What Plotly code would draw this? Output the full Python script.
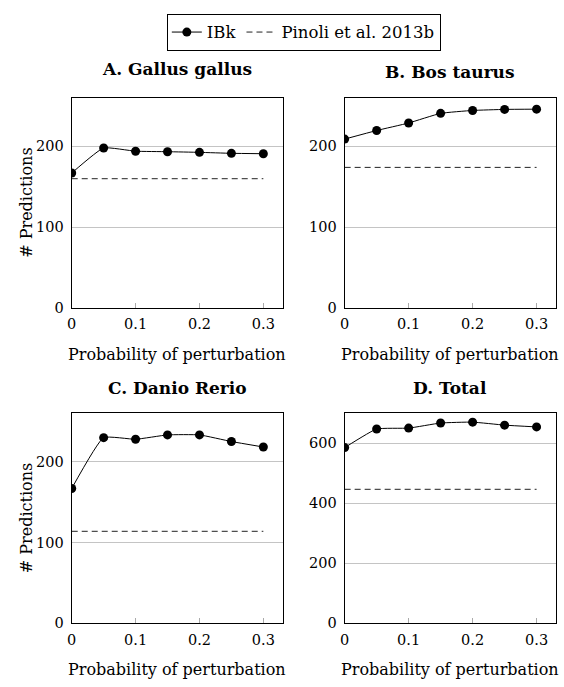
import plotly.graph_objects as go

# ---- data ----
prob = [0, 0.05, 0.1, 0.15, 0.2, 0.25, 0.3]
ibk_gallus = [167, 198, 194, 193.4, 192.6, 191.4, 190.9]
ibk_bos = [209, 219.6, 228.9, 240.8, 244.4, 245.7, 246]
ibk_danio = [167, 230, 228, 233.4, 233.4, 225.2, 218.4]
ibk_total = [586, 648, 651, 668, 671, 661, 655]
pinoli_x = [0, 0.3]
pinoli_gallus = 160
pinoli_bos = 174
pinoli_danio = 114
pinoli_total = 447
titles = ["A. Gallus gallus", "B. Bos taurus", "C. Danio Rerio", "D. Total"]
ymax = [260, 260, 260, 700]
yticks = [[0, 100, 200], [0, 100, 200], [0, 100, 200], [0, 200, 400, 600]]
xticks = [0, 0.1, 0.2, 0.3]
xtick_labels = ["0", "0.1", "0.2", "0.3"]
x_label = "Probability of perturbation"
y_label = "# Predictions"

W, H = 564, 687
FONT = "DejaVu Serif"

def px(v):
    return v / W

def py(v):
    return 1 - v / H

panels = [
    (67.3, 280.0, 99.0, 311.7),
    (342.7, 555.7, 99.0, 311.7),
    (67.3, 280.0, 418.3, 630.7),
    (342.7, 555.7, 418.3, 630.7),
]
ibk = [ibk_gallus, ibk_bos, ibk_danio, ibk_total]
pin = [pinoli_gallus, pinoli_bos, pinoli_danio, pinoli_total]

fig = go.Figure()
layout = {}
for i in range(4):
    sfx = "" if i == 0 else str(i + 1)
    xa, ya = "x" + sfx, "y" + sfx
    fig.add_trace(go.Scatter(
        x=prob, y=ibk[i], xaxis=xa, yaxis=ya, mode="lines+markers",
        line=dict(color="black", width=1, shape="spline", smoothing=0.4),
        marker=dict(symbol="circle", size=9, color="black"),
        name="IBk", showlegend=(i == 0), legendgroup="ibk"))
    fig.add_trace(go.Scatter(
        x=pinoli_x, y=[pin[i]] * len(pinoli_x), xaxis=xa, yaxis=ya, mode="lines",
        line=dict(color="#222222", width=1, dash="6px,4px"),
        name="Pinoli et al. 2013b", showlegend=(i == 0), legendgroup="pin"))
    x0, x1, y0, y1 = panels[i]
    layout["xaxis" + sfx] = dict(
        domain=[px(x0), px(x1)], anchor=ya, range=[0, 0.33],
        tickvals=xticks, ticktext=xtick_labels,
        ticks="inside", ticklen=5, tickcolor="#aaaaaa", tickwidth=1,
        showline=True, linecolor="black", linewidth=1, mirror=True,
        showgrid=False, zeroline=False, ticklabelstandoff=3,
        tickfont=dict(family=FONT, size=14.5, color="black"))
    layout["yaxis" + sfx] = dict(
        domain=[py(y1), py(y0)], anchor=xa, range=[0, ymax[i]],
        tickvals=yticks[i],
        ticks="", showline=True, linecolor="black", linewidth=1, mirror=True,
        showgrid=True, gridcolor="#c4c4c4", gridwidth=1, zeroline=False,
        ticklabelstandoff=4,
        tickfont=dict(family=FONT, size=14.5, color="black"))

annotations = []
title_y = [69.5, 73, 392.3, 392.3]
for i in range(4):
    x0, x1, y0, y1 = panels[i]
    cx = (x0 + x1) / 2
    annotations.append(dict(
        text="<b>" + titles[i] + "</b>", x=px(cx), y=py(title_y[i]),
        xref="paper", yref="paper", xanchor="center", yanchor="middle",
        showarrow=False, font=dict(family=FONT, size=17, color="black")))
    annotations.append(dict(
        text=x_label, x=px(cx), y=py(y1 + 47), xref="paper", yref="paper",
        xanchor="center", yanchor="middle", showarrow=False,
        font=dict(family=FONT, size=16, color="black")))
    if i in (0, 2):
        annotations.append(dict(
            text=y_label, x=px(22), y=py((y0 + y1) / 2), xref="paper", yref="paper",
            xanchor="center", yanchor="middle", textangle=-90, showarrow=False,
            font=dict(family=FONT, size=16, color="black")))

fig.update_layout(
    width=W, height=H, margin=dict(l=0, r=0, t=0, b=0),
    plot_bgcolor="white", paper_bgcolor="white",
    annotations=annotations,
    showlegend=True,
    legend=dict(
        orientation="h", x=px(301.5), y=py(14), xanchor="center", yanchor="top",
        bordercolor="black", borderwidth=1, bgcolor="white",
        font=dict(family=FONT, size=16.5, color="black"),
        itemwidth=30, tracegroupgap=0),
    **layout)

# remove the browser's default page margin so the figure fills the window exactly
fig.write_html(
    "out.html",
    config={"displayModeBar": False},
    post_script=("document.documentElement.style.overflow='hidden';"
                 "document.body.style.margin='0';"
                 "document.body.style.overflow='hidden';"))
